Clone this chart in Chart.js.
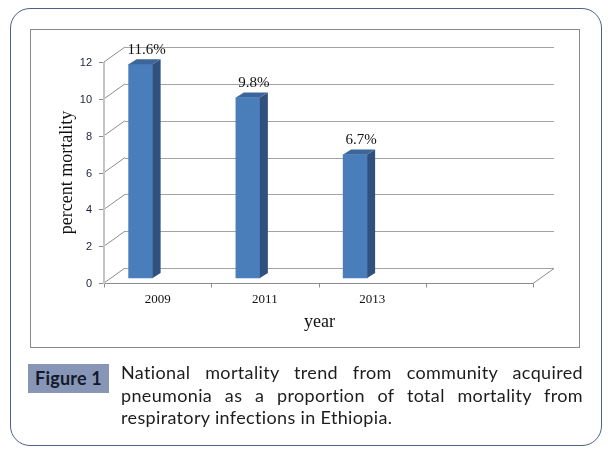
<!DOCTYPE html>
<html><head><meta charset="utf-8">
<script src="https://cdn.jsdelivr.net/npm/chart.js@4"></script>
<style>
html,body{margin:0;padding:0;background:#fff;}
body{width:608px;height:457px;position:relative;overflow:hidden;}
#outer{position:absolute;left:10px;top:8px;width:592px;height:438px;border:1.5px solid #4d6287;border-radius:20px;box-sizing:border-box;}
#inner{position:absolute;left:30px;top:29px;width:550px;height:319px;border:1px solid #8a8a8a;box-sizing:border-box;}
#chart{position:absolute;left:0;top:0;}
#fig{position:absolute;left:28px;top:364px;width:81px;height:29px;background:#8796b6;color:#151a2b;font:bold 18px Lato,"Liberation Sans",sans-serif;letter-spacing:0.2px;line-height:29px;text-align:center;}
#cap{position:absolute;left:121px;top:361px;width:462px;font:18px Lato,"Liberation Sans",sans-serif;letter-spacing:0.35px;line-height:22.7px;color:#1d1d1d;}
#cap .j{text-align:justify;text-align-last:justify;}
</style>
</head><body>
<div id="outer"></div>
<div id="inner"></div>
<canvas id="chart" width="608" height="457"></canvas>
<div id="fig">Figure 1</div>
<div id="cap"><div class="j">National mortality trend from community acquired</div><div class="j">pneumonia as a proportion of total mortality from</div><div>respiratory infections in Ethiopia.</div></div>
<script>
const years = ['2009', '2011', '2013', ''];
const mortality = [11.6, 9.8, 6.7, null];
const yTicks = [0, 2, 4, 6, 8, 10, 12];
const xTitle = 'year';
const yTitle = 'percent mortality';

const DEPTH_X = 21, DEPTH_Y = -15;   // back wall offset
const BAR_DX = -17, BAR_DY = -5;     // bar plane offset
const SIDE_X = 8, SIDE_Y = -5;       // bar depth

const threeD = {
  id: 'threeD',
  beforeDatasetsDraw(chart) {
    const {ctx, chartArea: a, scales: {x, y}} = chart;
    ctx.save();
    ctx.lineWidth = 1;
    // back wall grid lines
    ctx.strokeStyle = '#a3a3a3';
    yTicks.forEach(v => {
      const py = Math.round(y.getPixelForValue(v) + DEPTH_Y) + 0.5;
      ctx.beginPath(); ctx.moveTo(a.left + DEPTH_X, py); ctx.lineTo(a.right + DEPTH_X, py); ctx.stroke();
    });
    // diagonals from the front axis to the wall
    ctx.strokeStyle = '#8c8c8c';
    yTicks.forEach(v => {
      const py = y.getPixelForValue(v);
      ctx.beginPath(); ctx.moveTo(a.left, py); ctx.lineTo(a.left + DEPTH_X, py + DEPTH_Y); ctx.stroke();
    });
    // floor front edge and right diagonal
    const y0 = Math.round(y.getPixelForValue(0)) + 0.5;
    ctx.beginPath(); ctx.moveTo(a.left, y0); ctx.lineTo(a.right, y0); ctx.stroke();
    ctx.beginPath(); ctx.moveTo(a.right, y0); ctx.lineTo(a.right + DEPTH_X, y0 + DEPTH_Y); ctx.stroke();
    // x tick marks at category boundaries
    const n = years.length;
    const step = (a.right - a.left) / n;
    for (let i = 0; i <= n; i++) {
      const px = Math.round(a.left + i * step) + 0.5;
      ctx.beginPath(); ctx.moveTo(px, y0); ctx.lineTo(px, y0 + 4); ctx.stroke();
    }
    // y tick marks
    yTicks.forEach(v => {
      const py = Math.round(y.getPixelForValue(v)) + 0.5;
      ctx.beginPath(); ctx.moveTo(a.left - 5, py); ctx.lineTo(a.left, py); ctx.stroke();
    });
    // y axis line
    ctx.strokeStyle = '#c4c4c4'; ctx.lineWidth = 2;
    ctx.beginPath(); ctx.moveTo(a.left, y.getPixelForValue(12)); ctx.lineTo(a.left, y.getPixelForValue(0) + 1); ctx.stroke();
    // y tick labels
    ctx.fillStyle = '#1c2233';
    ctx.font = '11px "Liberation Sans", sans-serif';
    ctx.textAlign = 'right'; ctx.textBaseline = 'middle';
    yTicks.forEach(v => ctx.fillText(String(v), a.left - 12, y.getPixelForValue(v) + 1));
    // x tick labels
    ctx.fillStyle = '#111';
    ctx.font = '13px "Liberation Serif", serif';
    ctx.textAlign = 'center'; ctx.textBaseline = 'alphabetic';
    years.forEach((lab, i) => { if (lab) ctx.fillText(lab, x.getPixelForValue(i), y0 + 19.5); });
    // axis titles
    ctx.font = '18px "Liberation Serif", serif';
    ctx.fillText(xTitle, (a.left + a.right) / 2 + 1, y0 + 43);
    ctx.save();
    ctx.translate(67, (a.top + a.bottom) / 2);
    ctx.rotate(-Math.PI / 2);
    ctx.textBaseline = 'middle';
    ctx.fillText(yTitle, 0, 0);
    ctx.restore();
    ctx.restore();
    // shift the bar plane
    ctx.save();
    ctx.translate(BAR_DX, BAR_DY);
  },
  afterDatasetsDraw(chart) {
    const {ctx} = chart;
    const meta = chart.getDatasetMeta(0);
    meta.data.forEach((bar, i) => {
      const v = mortality[i];
      if (v == null) return;
      const p = bar.getProps(['x', 'y', 'base', 'width'], true);
      const l = p.x - p.width / 2, r = p.x + p.width / 2, t = p.y, b = p.base;
      ctx.fillStyle = '#30517d';
      ctx.beginPath(); ctx.moveTo(r, t); ctx.lineTo(r + SIDE_X, t + SIDE_Y); ctx.lineTo(r + SIDE_X, b + SIDE_Y); ctx.lineTo(r, b); ctx.closePath(); ctx.fill();
      ctx.fillStyle = '#3c6599';
      ctx.beginPath(); ctx.moveTo(l, t); ctx.lineTo(l + SIDE_X, t + SIDE_Y); ctx.lineTo(r + SIDE_X, t + SIDE_Y); ctx.lineTo(r, t); ctx.closePath(); ctx.fill();
      ctx.fillStyle = '#111';
      ctx.font = '15px "Liberation Serif", serif';
      ctx.textAlign = 'center'; ctx.textBaseline = 'middle';
      ctx.fillText(v + '%', p.x + SIDE_X / 2 + 2, t + SIDE_Y - 9.5);
    });
    ctx.restore();
  }
};

new Chart(document.getElementById('chart'), {
  type: 'bar',
  data: {
    labels: years,
    datasets: [{
      data: mortality,
      backgroundColor: '#4a7ebb',
      borderWidth: 0,
      barThickness: 24,
      clip: false
    }]
  },
  options: {
    responsive: false,
    animation: false,
    devicePixelRatio: 1,
    layout: {padding: {left: 104, right: 75, top: 62, bottom: 174}},
    plugins: {legend: {display: false}, tooltip: {enabled: false}},
    scales: {
      x: {display: false},
      y: {display: false, min: 0, max: 12}
    }
  },
  plugins: [threeD]
});
</script>
</body></html>
